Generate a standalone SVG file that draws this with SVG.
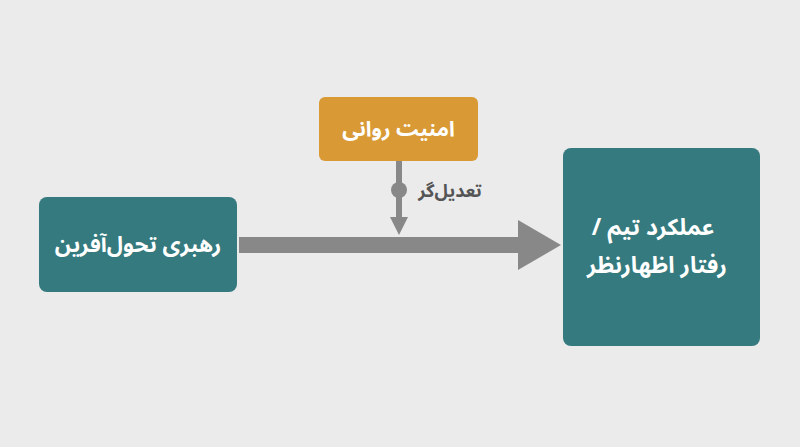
<svg xmlns="http://www.w3.org/2000/svg" width="800" height="447" viewBox="0 0 800 447">
<defs>
<style>
.t{font-family:"Noto Sans Arabic","Noto Sans","DejaVu Sans",sans-serif;font-weight:bold;fill:#ffffff;text-anchor:middle;direction:rtl}
.teal{fill:#347A7E}
.conn{fill:#888888}
</style>
</defs>
<rect x="0" y="0" width="800" height="447" fill="#EBEBEC"/>
<g id="connectors">
<rect class="conn" x="239" y="237" width="281" height="16"/>
<polygon class="conn" points="518,220 561,245 518,270"/>
<rect class="conn" x="396" y="161" width="6" height="57"/>
<circle class="conn" cx="399" cy="190" r="8"/>
<polygon class="conn" points="390,217 408,217 399,235"/>
<text x="450" y="197" direction="rtl" style="font-family:'Noto Sans Arabic','Noto Sans','DejaVu Sans',sans-serif;font-weight:bold;font-size:18px;fill:#555555;text-anchor:middle">تعدیل‌گر</text>
</g>
<g id="node-security">
<rect x="319" y="97" width="159" height="64" rx="6" fill="#D99A35"/>
<text class="t" x="398.5" y="136" font-size="21">امنیت روانی</text>
</g>
<g id="node-leadership">
<rect class="teal" x="39" y="197" width="198" height="95" rx="8"/>
<text class="t" x="138" y="252" font-size="22">رهبری تحول‌آفرین</text>
</g>
<g id="node-performance">
<rect class="teal" x="563" y="148" width="197" height="198" rx="8"/>
<text class="t" font-size="23"><tspan x="653" y="235">عملکرد تیم /</tspan><tspan x="657" y="273">رفتار اظهارنظر</tspan></text>
</g>
</svg>
